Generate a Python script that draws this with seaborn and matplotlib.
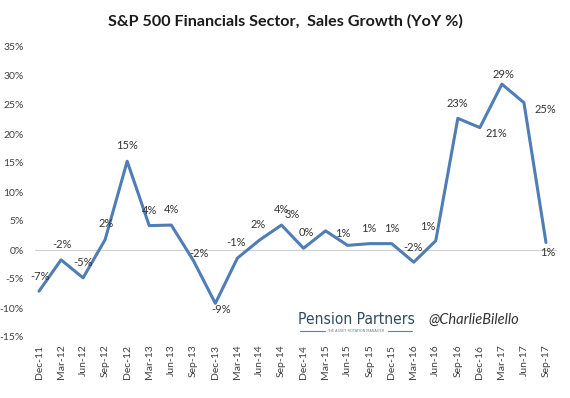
import numpy as np
import matplotlib
matplotlib.use("Agg")
import matplotlib.pyplot as plt
import seaborn as sns
from matplotlib.lines import Line2D

quarters = ["Dec-11", "Mar-12", "Jun-12", "Sep-12", "Dec-12", "Mar-13", "Jun-13", "Sep-13",
            "Dec-13", "Mar-14", "Jun-14", "Sep-14", "Dec-14", "Mar-15", "Jun-15", "Sep-15",
            "Dec-15", "Mar-16", "Jun-16", "Sep-16", "Dec-16", "Mar-17", "Jun-17", "Sep-17"]
growth = [-7.1, -1.7, -4.8, 1.8, 15.3, 4.2, 4.3, -1.8,
          -9.2, -1.4, 1.7, 4.3, 0.3, 3.3, 0.8, 1.1,
          1.1, -2.1, 1.6, 22.7, 21.1, 28.6, 25.4, 1.3]
labels = ["-7%", "-2%", "-5%", "2%", "15%", "4%", "4%", "-2%",
          "-9%", "-1%", "2%", "4%", "0%", "3%", "1%", "1%",
          "1%", "-2%", "1%", "23%", "21%", "29%", "25%", "1%"]
yticks = [-15, -10, -5, 0, 5, 10, 15, 20, 25, 30, 35]

# label offsets in pixels (style only)
label_offsets = [(1, 15), (1, 15), (0, 15), (1, 16), (0, 16), (0, 15), (0, 16), (6, 7),
                 (6, -6), (-1, 16), (-1, 16), (0, 16), (3, 16), (-33, 16), (-5, 12), (-1, 15),
                 (0, 15), (-1, 15), (-8, 14), (0, 15), (17, -6), (2, 10), (21, -7), (2, -10)]

sns.set_theme(style="white")
plt.rcParams['font.family'] = ['Lato', 'DejaVu Sans']

W, H = 570, 398
fig = plt.figure(figsize=(W / 100, H / 100), dpi=100)
fig.patch.set_facecolor("white")
ax = fig.add_axes([28 / W, (H - 337) / H, (557 - 28) / W, (337 - 47) / H])

x = np.arange(len(quarters))
sns.lineplot(x=x, y=growth, ax=ax, color="#4f7db5", linewidth=2.2)

ax.set_xlim(-0.5, len(quarters) - 0.5)
ax.set_ylim(-15, 35)
ax.set_yticks(yticks)
ax.set_yticklabels([f"{v}%" for v in yticks], fontsize=7.5, color="#404040")
ax.set_xticks(x)
ax.set_xticklabels(quarters, rotation=90, fontsize=7.5, color="#404040")
ax.tick_params(axis="y", length=0, pad=3)
ax.tick_params(axis="x", length=0, pad=5.5)
for s in ax.spines.values():
    s.set_visible(False)
ax.axhline(0, xmin=(35 - 28) / (557 - 28), xmax=1, color="#d0d0d0", linewidth=0.8, zorder=0)

for xi, yi, lab, (dx, dy) in zip(x, growth, labels, label_offsets):
    ax.annotate(lab, (xi, yi), xytext=(dx, dy), textcoords="offset pixels",
                ha="center", va="center", fontsize=8, color="#333333")

fig.text(285 / W, 1 - 21 / H, "S&P 500 Financials Sector,  Sales Growth (YoY %)",
         ha="center", va="center", fontsize=11.6, fontweight="bold", color="#1a1a1a",
         family=["Lato", "DejaVu Sans"])

# watermark
fig.text(356 / W, 1 - 319 / H, "Pension Partners", ha="center", va="center",
         fontsize=11.2, color="#2f4d63", family=["DejaVu Sans"],
         fontstretch="condensed")
fig.text(356 / W, 1 - 331 / H, "THE ASSET ROTATION MANAGER", ha="center", va="center",
         fontsize=2.5, color="#6a7f8f", family=["DejaVu Sans"])
fig.add_artist(Line2D([300 / W, 325 / W], [1 - 331 / H] * 2, color="#6a7f8f", linewidth=0.8))
fig.add_artist(Line2D([388 / W, 412 / W], [1 - 331 / H] * 2, color="#6a7f8f", linewidth=0.8))
fig.text(474 / W, 1 - 320 / H, "@CharlieBilello", ha="center", va="center",
         fontsize=10.5, style="italic", color="#333333", family=["Lato", "DejaVu Sans"])

fig.savefig("out.png", dpi=100, facecolor="white")
